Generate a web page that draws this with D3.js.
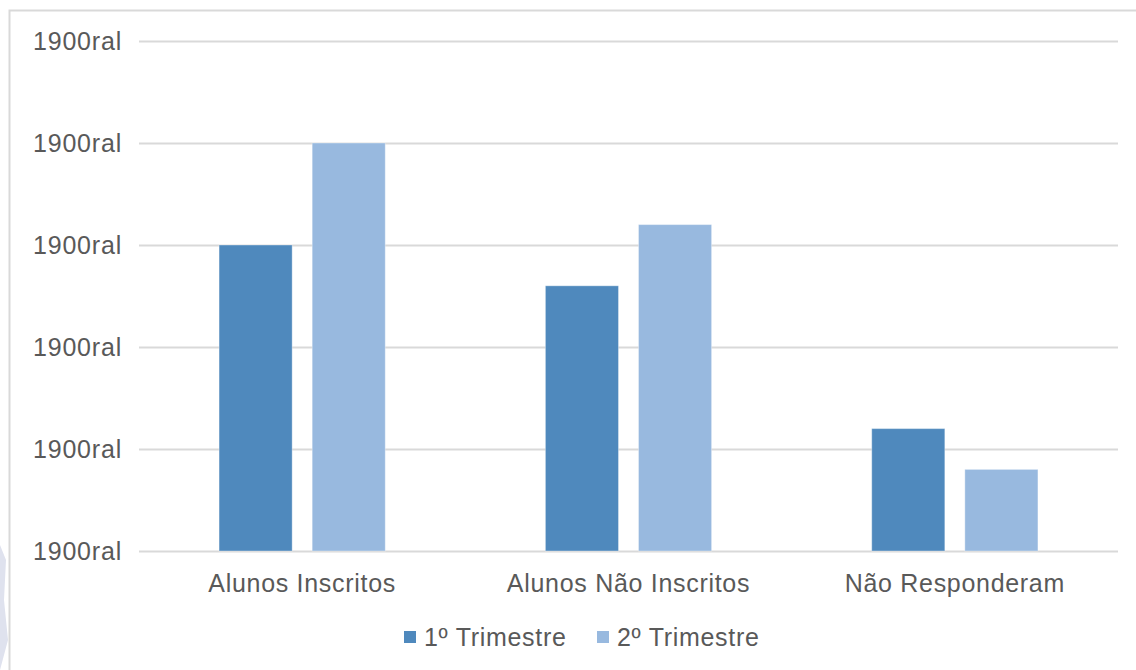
<!DOCTYPE html>
<html>
<head>
<meta charset="utf-8">
<script src="https://cdn.jsdelivr.net/npm/d3@7"></script>
<style>
  body { margin: 0; background: #fff; }
  svg { display: block; font-family: "Liberation Sans", Arial, sans-serif; }
</style>
</head>
<body>
<svg width="1136" height="670"></svg>
<script>
// chart data
const categories = ["Alunos Inscritos", "Alunos Não Inscritos", "Não Responderam"];
const seriesNames = ["1º Trimestre", "2º Trimestre"];
const trim1 = [30, 26, 12];
const trim2 = [40, 32, 8];
const tickValues = [0, 10, 20, 30, 40, 50];
const tickLabels = ["1900ral", "1900ral", "1900ral", "1900ral", "1900ral", "1900ral"];

const colors = ["#4f89bd", "#98b9df"];

const svg = d3.select("svg");
const width = +svg.attr("width");
const height = +svg.attr("height");

// frame + faint decoration at left edge
svg.append("path")
  .attr("d", "M0,545 L6,560 L4,600 L8,640 L0,670 Z")
  .attr("fill", "#dfe2ee");
svg.append("path")
  .attr("d", `M9.5,${height} V10.5 H${width}`)
  .attr("fill", "none")
  .attr("stroke", "#d9d9d9")
  .attr("stroke-width", 2);

const margin = { left: 139, right: 18, top: 41, bottom: 119 };

const x0 = d3.scaleBand()
  .domain(categories)
  .range([margin.left, width - margin.right])
  .paddingInner(0)
  .paddingOuter(0);

const x1 = d3.scaleBand()
  .domain(seriesNames)
  .range([0, x0.bandwidth()])
  .paddingInner(0.215)
  .paddingOuter(0.86);

const y = d3.scaleLinear()
  .domain([0, 50])
  .range([height - margin.bottom, margin.top]);

// gridlines + labels
const yAxis = d3.axisLeft(y)
  .tickValues(tickValues)
  .tickSize(-(width - margin.right - margin.left))
  .tickPadding(17)
  .tickFormat((d, i) => tickLabels[i]);

const gy = svg.append("g")
  .attr("transform", `translate(${margin.left},0)`)
  .call(yAxis);
gy.select(".domain").remove();
gy.selectAll(".tick line").attr("stroke", "#d9d9d9").attr("stroke-width", 2);
gy.selectAll(".tick text")
  .attr("fill", "#595959")
  .style("font-size", "25px")
  .style("letter-spacing", "0.8px");

// bars
const rows = categories.map((c, i) => ({ cat: c, values: [trim1[i], trim2[i]] }));

const group = svg.append("g").selectAll("g")
  .data(rows)
  .enter().append("g")
    .attr("transform", (d) => `translate(${x0(d.cat)},0)`);

group.selectAll("rect")
  .data((d) => d.values.map((v, j) => ({ name: seriesNames[j], value: v, j })))
  .enter().append("rect")
    .attr("x", (d) => x1(d.name))
    .attr("y", (d) => y(d.value))
    .attr("width", x1.bandwidth())
    .attr("height", (d) => y(0) - y(d.value))
    .attr("fill", (d) => colors[d.j])
    .attr("stroke", "#ffffff")
    .attr("stroke-opacity", 0.35)
    .attr("stroke-width", 1);

// category labels
const xAxis = d3.axisBottom(x0).tickSize(0).tickPadding(23);
const gx = svg.append("g")
  .attr("transform", `translate(0,${height - margin.bottom})`)
  .call(xAxis);
gx.select(".domain").remove();
gx.selectAll(".tick text")
  .attr("fill", "#595959")
  .style("font-size", "25px")
  .style("letter-spacing", "0.7px");

// legend
const legendX = [404, 597];
const legend = svg.append("g").selectAll("g")
  .data(seriesNames)
  .enter().append("g")
    .attr("transform", (d, i) => `translate(${legendX[i]},637)`);

legend.append("rect")
  .attr("x", 0)
  .attr("y", -6)
  .attr("width", 12)
  .attr("height", 12)
  .attr("fill", (d, i) => colors[i]);

legend.append("text")
  .attr("x", 20)
  .attr("dy", "0.35em")
  .attr("fill", "#595959")
  .style("font-size", "25px")
  .style("letter-spacing", "0.7px")
  .text((d) => d);
</script>
</body>
</html>
